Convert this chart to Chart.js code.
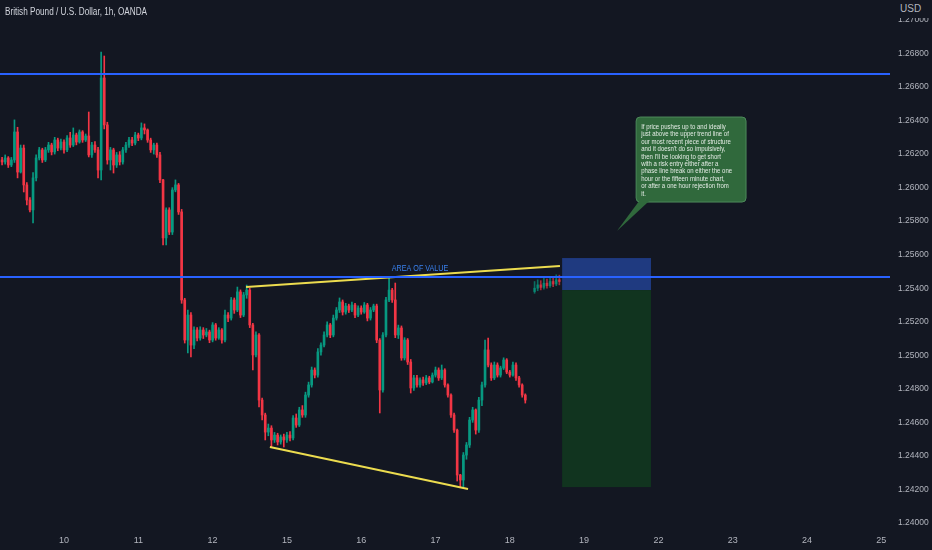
<!DOCTYPE html>
<html>
<head>
<meta charset="utf-8">
<script src="https://cdn.jsdelivr.net/npm/chart.js@4.4.1/dist/chart.umd.min.js"></script>
<style>
  html, body { margin: 0; padding: 0; background: #131722; }
  #wrap { position: relative; width: 932px; height: 550px; }
  #title { position: absolute; left: 5px; top: 5px; font: 10.5px 'Liberation Sans', sans-serif; color: #d1d4dc; transform: scaleX(0.78); transform-origin: 0 0; white-space: nowrap; }
  #usd { position: absolute; left: 897px; top: 0; width: 35px; height: 18px; padding: 3px 0 0 3px; box-sizing: border-box; font: 10px 'Liberation Sans', sans-serif; color: #b2b5be; background: #131722; }
</style>
</head>
<body>
<div id="wrap">
  <canvas id="chart" width="932" height="550"></canvas>
  <div id="title">British Pound / U.S. Dollar, 1h, OANDA</div>
  <div id="usd">USD</div>
</div>
<script>
// prices are stored as 1e-5 steps above 1.20000 (6400 -> 1.26400)
// x is counted in hourly bars, 0 = first bar of the 10th
const dayLabels = ['10', '11', '12', '15', '16', '17', '18', '19', '22', '23', '24', '25'];
const yTicks = [4000, 4200, 4400, 4600, 4800, 5000, 5200, 5400, 5600, 5800, 6000, 6200, 6400, 6600, 6800, 7000];

const firstBar = -20;
const firstOpen = 6165;
const closes = [
  6153, 6177, 6135, 6165, 6332, 6093, 6236, 6016, 5926, 5867,
  6058, 6177, 6225, 6165, 6225, 6254, 6213, 6284, 6236, 6272,
  6225, 6296, 6254, 6314, 6272, 6332, 6284, 6308, 6195, 6254,
  6225, 6105, 6654, 6374, 6165, 6225, 6135, 6195, 6153, 6225,
  6254, 6284, 6266, 6314, 6296, 6356, 6344, 6284, 6225, 6254,
  6195, 6046, 5700, 5867, 5735, 5986, 6016, 5855, 5330, 5091,
  5240, 5061, 5151, 5103, 5151, 5121, 5139, 5091, 5181, 5103,
  5151, 5091, 5240, 5222, 5330, 5270, 5378, 5240, 5360, 5389,
  5181, 5002, 5121, 4733, 4644, 4542, 4566, 4495, 4524, 4483,
  4513, 4495, 4524, 4507, 4626, 4584, 4674, 4644, 4763, 4823,
  4912, 4882, 5020, 5061, 5121, 5181, 5121, 5222, 5270, 5318,
  5258, 5294, 5270, 5300, 5240, 5282, 5258, 5300, 5222, 5270,
  5294, 5091, 4793, 5121, 5330, 5389, 5330, 5121, 5163, 4984,
  5091, 4960, 4805, 4865, 4823, 4853, 4835, 4865, 4841, 4882,
  4912, 4865, 4912, 4823, 4763, 4644, 4554, 4286, 4256, 4405,
  4465, 4614, 4674, 4554, 4733, 4823, 5032, 4942, 4865, 4942,
  4882, 4924, 4972, 4900, 4882, 4942, 4865, 4823, 4763, 4733
];
const highs = [
  6180, 6195, 6185, 6180, 6404, 6360, 6254, 6254, 6030, 5940,
  6090, 6195, 6240, 6235, 6240, 6270, 6265, 6300, 6295, 6290,
  6285, 6310, 6330, 6356, 6325, 6344, 6340, 6320, 6451, 6270,
  6275, 6240, 6809, 6785, 6390, 6240, 6235, 6210, 6215, 6240,
  6270, 6300, 6300, 6330, 6325, 6386, 6380, 6350, 6295, 6265,
  6265, 6210, 6050, 5880, 5880, 6000, 6046, 6025, 5870, 5340,
  5270, 5255, 5170, 5165, 5170, 5165, 5160, 5150, 5195, 5190,
  5165, 5160, 5270, 5255, 5345, 5342, 5407, 5390, 5375, 5419,
  5400, 5190, 5140, 5130, 4745, 4655, 4590, 4580, 4540, 4535,
  4525, 4530, 4540, 4545, 4640, 4650, 4690, 4700, 4780, 4840,
  4930, 4925, 5040, 5075, 5140, 5200, 5190, 5240, 5285, 5342,
  5330, 5310, 5305, 5318, 5310, 5295, 5295, 5315, 5310, 5285,
  5305, 5305, 5100, 5135, 5345, 5461, 5400, 5431, 5180, 5175,
  5105, 5100, 4975, 4880, 4880, 4865, 4870, 4880, 4875, 4895,
  4930, 4925, 4942, 4920, 4830, 4770, 4655, 4560, 4290, 4420,
  4480, 4630, 4690, 4680, 4750, 4840, 5091, 5103, 4955, 4960,
  4955, 4935, 4985, 4980, 4910, 4960, 4955, 4875, 4830, 4770
];
const lows = [
  6135, 6140, 6120, 6125, 6150, 6058, 6087, 5974, 5897, 5855,
  5789, 6040, 6165, 6150, 6155, 6210, 6195, 6200, 6220, 6225,
  6205, 6215, 6240, 6245, 6255, 6265, 6270, 6275, 6183, 6180,
  6210, 6058, 6046, 6350, 6140, 6105, 6087, 6120, 6135, 6140,
  6210, 6240, 6250, 6255, 6280, 6285, 6320, 6270, 6210, 6200,
  6180, 6030, 5658, 5658, 5720, 5720, 5975, 5840, 5310, 5073,
  5014, 4990, 5040, 5085, 5090, 5100, 5110, 5075, 5080, 5090,
  5095, 5073, 5080, 5200, 5210, 5250, 5260, 5225, 5230, 5340,
  5165, 4912, 4990, 4692, 4614, 4495, 4520, 4453, 4480, 4465,
  4470, 4453, 4480, 4490, 4495, 4570, 4575, 4630, 4630, 4750,
  4810, 4865, 4870, 5000, 5050, 5110, 5105, 5110, 5210, 5255,
  5240, 5245, 5255, 5260, 5225, 5230, 5245, 5250, 5205, 5210,
  5260, 5075, 4656, 4780, 5110, 5320, 5315, 5105, 5100, 4970,
  4972, 4945, 4775, 4790, 4810, 4810, 4820, 4825, 4830, 4835,
  4870, 4850, 4855, 4810, 4750, 4630, 4540, 4250, 4214, 4214,
  4380, 4450, 4600, 4530, 4540, 4700, 4810, 4930, 4850, 4855,
  4870, 4870, 4915, 4890, 4870, 4875, 4850, 4810, 4750, 4715
];

// projected bars drawn next to the last price
const ghostFirstBar = 152;
const ghostOpen = 5380;
const ghostCloses = [5400, 5420, 5405, 5430, 5415, 5440, 5425, 5450, 5440];
const ghostHighs = [5440, 5450, 5445, 5460, 5455, 5470, 5465, 5480, 5478];
const ghostLows = [5370, 5385, 5390, 5395, 5400, 5405, 5410, 5415, 5420];

const levels = [6678, 5467];
const upperTrend = [[58.8, 5407], [160.2, 5533]];
const lowerTrend = [[66.5, 4453], [130.5, 4203]];

const position = { from: 160.9, to: 189.6, stop: 5580, entry: 5389, target: 4214 };
const areaLabel = { text: 'AREA OF VALUE', x: 115, y: 5515 };
const noteLines = [
  'If price pushes up to and ideally',
  'just above the upper trend line of',
  'our most recent piece of structure',
  "and it doesn't do so impulsively,",
  "then I'll be looking to get short",
  'with a risk entry either after a',
  'phase line break on either the one',
  'hour or the fifteen minute chart,',
  'or after a one hour rejection from',
  'it.'
];
const note = { left: 184.8, right: 220.3, top: 6421, bottom: 5914, tipX: 178.6, tipY: 5741 };

const X_MIN = -20.67;
const X_MAX = 266.8;
const UP = '#089981';
const DOWN = '#f23645';
const FONT = "'Liberation Sans', sans-serif";

function buildCandles(start, open0, cl, hi, lo) {
  return cl.map((c, k) => {
    const o = k === 0 ? open0 : cl[k - 1];
    return { x: start + k, o, c, h: Math.max(hi[k], o, c), l: Math.min(lo[k], o, c) };
  });
}

const candles = buildCandles(firstBar, firstOpen, closes, highs, lows);
const ghosts = buildCandles(ghostFirstBar, ghostOpen, ghostCloses, ghostHighs, ghostLows);

function colorOf(list, alpha) {
  return list.map(d => {
    const base = d.c >= d.o ? UP : DOWN;
    return alpha ? base + alpha : base;
  });
}

// narrow text, like the price-panel font
function narrowText(ctx, text, x, y, squeeze) {
  ctx.save();
  ctx.translate(x, y);
  ctx.scale(squeeze, 1);
  ctx.fillText(text, 0, 0);
  ctx.restore();
}

function noPadding(scale) {
  scale.paddingTop = 0;
  scale.paddingBottom = 0;
  scale.paddingLeft = 0;
  scale.paddingRight = 0;
}

// position box and callout are drawn through the chart scales
const drawings = {
  id: 'drawings',
  beforeDatasetsDraw(chart) {
    const { ctx, scales: { x, y }, chartArea } = chart;
    ctx.save();
    ctx.beginPath();
    ctx.rect(chartArea.left, chartArea.top, chartArea.width, chartArea.height);
    ctx.clip();
    const x1 = x.getPixelForValue(position.from);
    const x2 = x.getPixelForValue(position.to);
    ctx.fillStyle = '#1f3a80';
    ctx.fillRect(x1, y.getPixelForValue(position.stop), x2 - x1,
      y.getPixelForValue(position.entry) - y.getPixelForValue(position.stop));
    ctx.fillStyle = '#11341f';
    ctx.fillRect(x1, y.getPixelForValue(position.entry), x2 - x1,
      y.getPixelForValue(position.target) - y.getPixelForValue(position.entry));
    ctx.restore();
  },
  afterDatasetsDraw(chart) {
    const { ctx, scales: { x, y } } = chart;
    ctx.save();
    ctx.font = '9px ' + FONT;
    ctx.fillStyle = '#3a82f0';
    ctx.textAlign = 'center';
    ctx.textBaseline = 'middle';
    narrowText(ctx, areaLabel.text, x.getPixelForValue(areaLabel.x), y.getPixelForValue(areaLabel.y), 0.8);

    const l = x.getPixelForValue(note.left);
    const r = x.getPixelForValue(note.right);
    const t = y.getPixelForValue(note.top);
    const b = y.getPixelForValue(note.bottom);
    ctx.fillStyle = '#30693c';
    ctx.strokeStyle = '#4d8a5b';
    ctx.lineWidth = 1;
    ctx.beginPath();
    ctx.roundRect(l, t, r - l, b - t, 4);
    ctx.fill();
    ctx.stroke();
    ctx.beginPath();
    ctx.moveTo(l + 3, b - 1);
    ctx.lineTo(x.getPixelForValue(note.tipX), y.getPixelForValue(note.tipY));
    ctx.lineTo(l + 13, b - 1);
    ctx.closePath();
    ctx.fill();
    ctx.fillStyle = '#e3ebe4';
    ctx.font = '7px ' + FONT;
    ctx.textAlign = 'left';
    ctx.textBaseline = 'alphabetic';
    noteLines.forEach((line, k) => {
      narrowText(ctx, line, l + 5, t + 12 + k * 7.4, 0.86);
    });
    ctx.restore();
  }
};

const ctx = document.getElementById('chart').getContext('2d');
new Chart(ctx, {
  type: 'bar',
  data: {
    datasets: [
      {
        type: 'line',
        data: [{ x: X_MIN - 5, y: levels[0] }, { x: X_MAX + 5, y: levels[0] }],
        borderColor: '#2962ff',
        borderWidth: 2,
        pointRadius: 0
      },
      {
        type: 'line',
        data: [{ x: X_MIN - 5, y: levels[1] }, { x: X_MAX + 5, y: levels[1] }],
        borderColor: '#2962ff',
        borderWidth: 2,
        pointRadius: 0
      },
      {
        type: 'line',
        data: upperTrend.map(p => ({ x: p[0], y: p[1] })),
        borderColor: '#ecdc4f',
        borderWidth: 2,
        pointRadius: 0
      },
      {
        type: 'line',
        data: lowerTrend.map(p => ({ x: p[0], y: p[1] })),
        borderColor: '#ecdc4f',
        borderWidth: 2,
        pointRadius: 0
      },
      {
        data: candles.map(d => ({ x: d.x, y: [d.l, d.h] })),
        backgroundColor: colorOf(candles),
        barThickness: 1,
        grouped: false
      },
      {
        data: candles.map(d => ({ x: d.x, y: [Math.min(d.o, d.c), Math.max(d.o, d.c)] })),
        backgroundColor: colorOf(candles),
        barThickness: 2,
        minBarLength: 1,
        grouped: false
      },
      {
        data: ghosts.map(d => ({ x: d.x, y: [d.l, d.h] })),
        backgroundColor: colorOf(ghosts, 'aa'),
        barThickness: 1,
        grouped: false
      },
      {
        data: ghosts.map(d => ({ x: d.x, y: [Math.min(d.o, d.c), Math.max(d.o, d.c)] })),
        backgroundColor: colorOf(ghosts, 'aa'),
        barThickness: 2,
        minBarLength: 1,
        grouped: false
      }
    ]
  },
  options: {
    responsive: false,
    animation: false,
    layout: { padding: 0 },
    plugins: {
      legend: { display: false },
      tooltip: { enabled: false }
    },
    scales: {
      x: {
        type: 'linear',
        offset: false,
        min: X_MIN,
        max: X_MAX,
        grid: { display: false, drawTicks: false },
        border: { display: false },
        afterBuildTicks: scale => {
          scale.ticks = dayLabels.map((_, k) => ({ value: k * 24 }));
        },
        afterFit: scale => { scale.height = 20; noPadding(scale); },
        ticks: {
          autoSkip: false,
          maxRotation: 0,
          padding: 5,
          color: '#b2b5be',
          font: { family: FONT, size: 9 },
          callback: (value, index) => dayLabels[index]
        }
      },
      y: {
        position: 'right',
        min: 3958,
        max: 7119,
        grid: { display: false, drawTicks: false },
        border: { display: false },
        afterBuildTicks: scale => {
          scale.ticks = yTicks.map(v => ({ value: v }));
        },
        afterFit: scale => { scale.width = 42; noPadding(scale); },
        ticks: {
          padding: 8,
          color: '#b2b5be',
          font: { family: FONT, size: 8.5 },
          callback: value => (1.2 + value / 100000).toFixed(5)
        }
      }
    }
  },
  plugins: [drawings]
});
</script>
</body>
</html>
